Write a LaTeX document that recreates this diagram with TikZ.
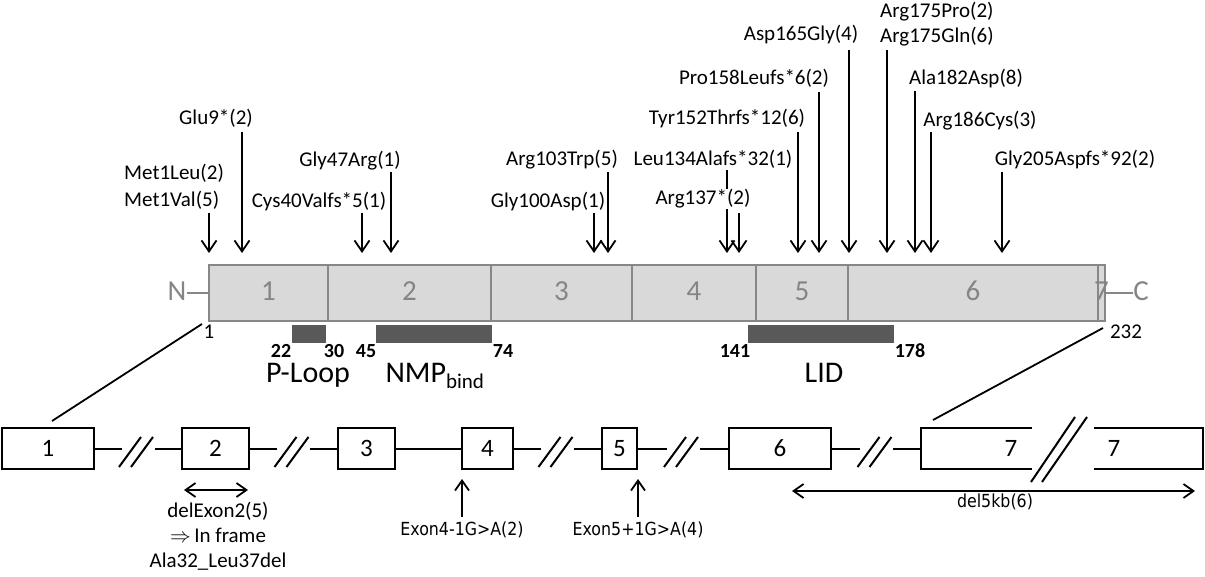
\documentclass[tikz,border=0pt]{standalone}
\usepackage{fontspec}
\setmainfont{Carlito}
\newfontfamily\dvc[FakeStretch=0.88]{DejaVu Sans}
\usetikzlibrary{arrows.meta}
\definecolor{segfill}{HTML}{D9D9D9}
\definecolor{segborder}{HTML}{878787}
\definecolor{segtext}{HTML}{858585}
\definecolor{domfill}{HTML}{595959}
\begin{document}
\begin{tikzpicture}[x=1pt,y=-1pt,
  lbl/.style={font=\fontsize{21}{25}\selectfont, inner sep=0pt, anchor=base},
  mut/.style={line width=1.8pt, -{Straight Barb[length=11pt,width=15pt]}},
  seg/.style={draw=segborder, fill=segfill, line width=2.2pt, inner sep=0pt, minimum height=56pt},
  segnum/.style={text=segtext, font=\fontsize{29}{30}\selectfont, inner sep=0pt, anchor=base},
  dom/.style={fill=domfill, draw=none, inner sep=0pt, minimum height=18pt},
  domnum/.style={font=\bfseries\fontsize{20}{22}\selectfont, inner sep=0pt, anchor=base, text height=13pt, text depth=0pt},
  domname/.style={font=\fontsize{30}{32}\selectfont, inner sep=0pt, anchor=base, text height=19pt},
  exon/.style={draw, line width=2pt, inner sep=0pt, minimum height=41pt, font=\fontsize{25}{28}\selectfont},
  gline/.style={line width=2pt},
  small/.style={font=\dvc\fontsize{18}{20}\selectfont, inner sep=0pt, anchor=base},
  uparr/.style={line width=1.8pt, -{Straight Barb[length=10pt,width=14pt]}},
  dblarr/.style={line width=1.8pt, {Straight Barb[length=10pt,width=14pt]}-{Straight Barb[length=10pt,width=14pt]}},
]
\useasboundingbox (0,0) rectangle (1205,577);

% ---------- protein bar ----------
\foreach \a/\b/\n [count=\i] in {209/328/1, 328/491/2, 491/632/3, 632/756/4, 756/848/5, 848/1098/6, 1098/1105/7} {
  \node[seg, minimum width={(\b-\a)*1pt}] (s\i) at ({(\a+\b)/2},293) {};
}
\foreach \a/\b/\n [count=\i] in {209/328/1, 328/491/2, 491/632/3, 632/756/4, 756/848/5, 848/1098/6, 1098/1105/7} {
  \node[segnum] (sn\i) at ({(\a+\b)/2},300.5) {\n};
}
\node[segnum] (N) at (177,301) {N};
\node[segnum] (C) at (1141,301) {C};
\draw[segborder, line width=2pt] (N.east |- s1.west) -- (s1.west);
\draw[segborder, line width=2pt] (s7.east) -- (C.west |- s7.east);

% ---------- domains ----------
\node[dom, minimum width=34pt] (ploop) at (309,334) {};
\node[dom, minimum width=116pt] (nmp) at (434,334) {};
\node[dom, minimum width=146pt] (lid) at (821,334) {};
\node[domnum] (n22) at (281,357) {22};
\node[domnum] (n30) at (334,357) {30};
\node[domnum] (n45) at (366,357) {45};
\node[domnum] (n74) at (503,357) {74};
\node[domnum] (n141) at (735,357) {141};
\node[domnum] (n178) at (910,357) {178};
\node[domname] (tploop) at (308,382) {P-Loop};
\node[domname] (tnmp) at (435,382) {NMP\textsubscript{bind}};
\node[domname] (tlid) at (824,382) {LID};
\node[lbl] (aa1) at (209,338) {1};
\node[lbl] (aa232) at (1126,339) {232};

% ---------- mutation arrows ----------
\foreach \x/\ys [count=\i] in {209/213, 242/132, 362/213, 391/172, 594/213, 608/172, 727/170, 739/213, 798/132, 819/92, 849/50, 887/50, 915/91, 931/132, 1002/172} {
  \coordinate (m\i s) at (\x,\ys);
  \coordinate (m\i e) at (\x,253);
  \draw[mut] (m\i s) -- (m\i e);
}

% ---------- mutation labels ----------
\node[lbl, anchor=base west] (lMetLeu) at (124,180) {Met1Leu(2)};
\node[lbl, anchor=base west] (lMetVal) at (124,207) {Met1Val(5)};
\node[lbl] (lGlu9) at (216,125) {Glu9*(2)};
\node[lbl] (lGly47) at (350,167) {Gly47Arg(1)};
\node[lbl] (lCys40) at (319,208) {Cys40Valfs*5(1)};
\node[lbl] (lGly100) at (548,208) {Gly100Asp(1)};
\node[lbl] (lArg103) at (562,166) {Arg103Trp(5)};
\node[lbl] (lLeu134) at (713,166) {Leu134Alafs*32(1)};
\node[lbl, fill=white, inner sep=0.5pt] (lArg137) at (703,205) {Arg137*(2)};
\node[lbl] (lTyr152) at (727,125) {Tyr152Thrfs*12(6)};
\node[lbl] (lPro158) at (754,85) {Pro158Leufs*6(2)};
\node[lbl] (lAsp165) at (801,41) {Asp165Gly(4)};
\node[lbl, anchor=base west] (lArg175P) at (880,18) {Arg175Pro(2)};
\node[lbl, anchor=base west] (lArg175Q) at (880,43) {Arg175Gln(6)};
\node[lbl] (lAla182) at (966,85) {Ala182Asp(8)};
\node[lbl] (lArg186) at (980,127) {Arg186Cys(3)};
\node[lbl] (lGly205) at (1075,166) {Gly205Aspfs*92(2)};

% ---------- gene structure ----------
\node[exon, minimum width=92pt] (ex1) at (48,448.5) {1};
\node[exon, minimum width=67pt] (ex2) at (215.5,448.5) {2};
\node[exon, minimum width=57pt] (ex3) at (366.5,448.5) {3};
\node[exon, minimum width=51pt] (ex4) at (487.5,448.5) {4};
\node[exon, minimum width=35pt] (ex5) at (619.5,448.5) {5};
\node[exon, minimum width=102pt] (ex6) at (780,448.5) {6};
\node[inner sep=0pt, outer sep=0pt, minimum width=111pt, minimum height=41pt] (ex7a) at (976.5,448.5) {};
\node[inner sep=0pt, outer sep=0pt, minimum width=109pt, minimum height=41pt] (ex7b) at (1148.5,448.5) {};
\draw[gline] (ex7a.north east) -- (ex7a.north west) -- (ex7a.south west) -- (ex7a.south east);
\draw[gline] (ex7b.north west) -- (ex7b.north east) -- (ex7b.south east) -- (ex7b.south west);
\node[font=\fontsize{25}{28}\selectfont, inner sep=0pt] (n7a) at (1011,448.5) {7};
\node[font=\fontsize{25}{28}\selectfont, inner sep=0pt] (n7b) at (1114,448.5) {7};

% introns with breaks
\foreach \l/\r in {ex1/ex2, ex2/ex3, ex4/ex5, ex5/ex6, ex6/ex7a} {
  \path (\l.east) -- (\r.west) coordinate[pos=0.5] (mid\l);
  \draw[gline] (\l.east) -- ([xshift=-16.5pt]mid\l);
  \draw[gline] ([xshift=16.5pt]mid\l) -- (\r.west);
  \draw[gline] ([xshift=-19pt,yshift=-18.5pt]mid\l) -- ([xshift=3pt,yshift=11.5pt]mid\l);
  \draw[gline] ([xshift=-7pt,yshift=-18.5pt]mid\l) -- ([xshift=15pt,yshift=11.5pt]mid\l);
}
\draw[gline] (ex3.east) -- (ex4.west);
% big break in exon 7
\coordinate (bA1) at (1031,482); \coordinate (bA2) at (1075,417);
\coordinate (bB1) at (1042,482); \coordinate (bB2) at (1087,417);
\draw[gline] (bA1) -- (bA2);
\draw[gline] (bB1) -- (bB2);

% zoom lines from protein to gene
\coordinate (z1a) at (202,324); \coordinate (z1b) at (52,421);
\coordinate (z2a) at (1103,328); \coordinate (z2b) at (933,420);
\draw[line width=1.8pt] (z1a) -- (z1b);
\draw[line width=1.8pt] (z2a) -- (z2b);

% splice mutations
\coordinate (sp4s) at (462,517); \coordinate (sp4e) at (462,479);
\coordinate (sp5s) at (638,517); \coordinate (sp5e) at (638,479);
\draw[uparr] (sp4s) -- (sp4e);
\draw[uparr] (sp5s) -- (sp5e);
\node[small] (lsp4) at (462,535) {Exon4-1G>A(2)};
\node[small] (lsp5) at (638,535) {Exon5+1G>A(4)};

% deletions
\coordinate (d2a) at (184,490); \coordinate (d2b) at (248,490);
\draw[dblarr] (d2a) -- (d2b);
\node[lbl] (ld2a) at (218,517) {delExon2(5)};
\node[lbl] (ld2b) at (218,542) {$\Rightarrow$\,In frame};
\node[lbl] (ld2c) at (218,567) {Ala32\_Leu37del};
\coordinate (d5a) at (792,491); \coordinate (d5b) at (1195,491);
\draw[dblarr] (d5a) -- (d5b);
\node[small] (ld5) at (995,507) {del5kb(6)};
\end{tikzpicture}
\end{document}
